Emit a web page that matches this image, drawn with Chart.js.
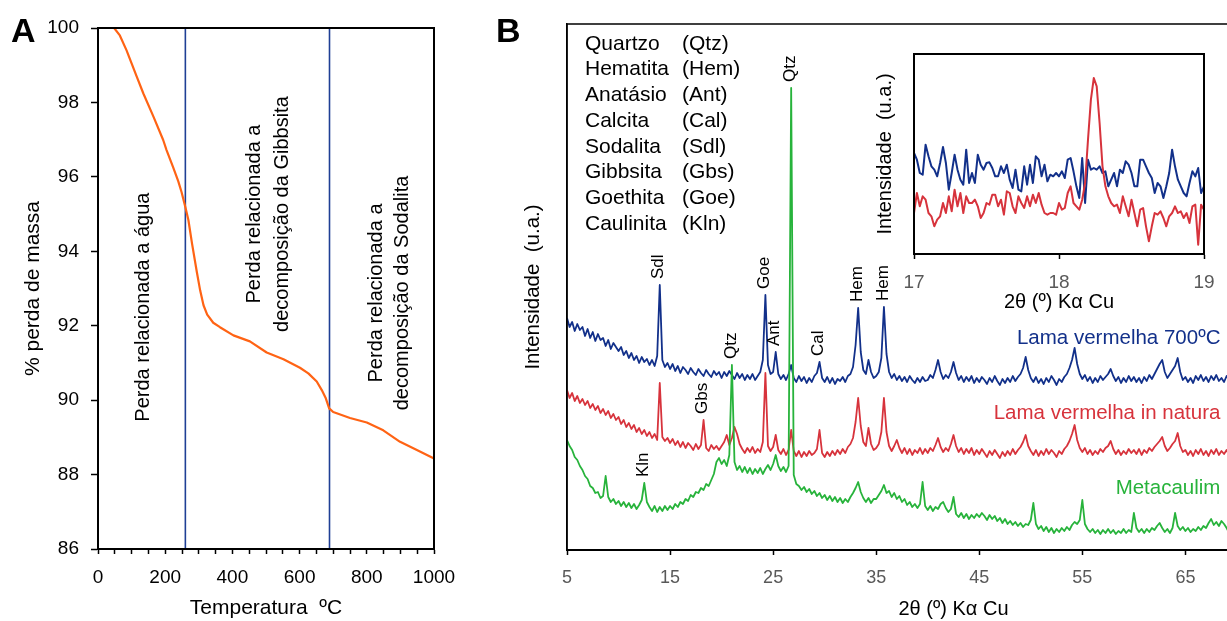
<!DOCTYPE html>
<html lang="pt">
<head>
<meta charset="UTF-8">
<title>TGA e DRX</title>
<script src="https://cdn.jsdelivr.net/npm/chart.js"></script>
<style>
  body { margin: 0; width: 1227px; height: 621px; overflow: hidden; background: #fff; position: relative; font-family: 'Liberation Sans', Arial, sans-serif; }
  canvas { position: absolute; }
  .panel { position: absolute; font-weight: bold; font-size: 34px; line-height: 1; }
</style>
</head>
<body>
<canvas id="tga" style="left:0; top:0;" width="470" height="621"></canvas>
<canvas id="xrd" style="left:480px; top:0;" width="880" height="621"></canvas>
<canvas id="inset" style="left:860px; top:40px;" width="367" height="280"></canvas>
<div class="panel" style="left:11px; top:13px;">A</div>
<div class="panel" style="left:496px; top:13px;">B</div>
<script>
// ---- A: TGA ----
const tgaTemp = [48, 65, 85, 100, 115, 135, 165, 194, 204, 224, 239, 249, 261, 269, 280, 294, 304, 314, 325, 343,
  363, 403, 452, 502, 552, 601, 626, 651, 666, 678, 688, 700, 750, 800, 849, 899, 949, 1000];
const tgaMass = [100.0, 99.8, 99.4, 99.05, 98.7, 98.24, 97.62, 96.99, 96.72, 96.25, 95.88, 95.58, 95.15, 94.84, 94.2, 93.45, 92.95, 92.55, 92.3, 92.08,
  91.96, 91.74, 91.58, 91.28, 91.1, 90.87, 90.72, 90.5, 90.27, 90.05, 89.78, 89.68, 89.52, 89.4, 89.19, 88.88, 88.66, 88.43];
const stageBounds = [260, 689];
const tempTicks = [0, 50, 100, 150, 200, 250, 300, 350, 400, 450, 500, 550, 600, 650, 700, 750, 800, 850, 900, 950, 1000];
const stageNotes = [
  { lines: ['Perda relacionada a água'], at: [134], mid: 92.5 },
  { lines: ['Perda relacionada a', 'decomposição da Gibbsita'], at: [467, 548], mid: 95.0 },
  { lines: ['Perda relacionada a', 'decomposição da Sodalita'], at: [830, 905], mid: 92.88 }
];

// ---- B: DRX, 2θ from 5 to 70 in steps of 0.25 ----
const xrdStart = 5, xrdStep = 0.25;
const xrdTicks = [5, 15, 25, 35, 45, 55, 65, 75];
const xrdBlue = [
  232,223,228,219,226,220,223,214,221,212,218,209,216,210,212,204,210,201,207,203,
  199,203,195,199,192,197,190,194,187,193,188,191,185,190,184,194,265,190,183,187,
  181,186,179,184,177,183,180,176,182,178,175,181,177,174,180,176,173,179,175,178,
  172,178,174,179,175,171,177,172,176,170,175,171,176,170,174,178,190,255,185,176,
  178,198,176,171,175,170,176,185,172,168,174,169,173,167,172,168,174,177,188,172,
  168,173,167,172,166,171,169,173,168,174,176,183,205,242,198,180,176,190,178,172,
  174,178,192,243,196,178,172,176,170,174,169,173,168,174,170,167,172,168,173,169,
  170,175,172,180,190,178,171,175,172,178,188,177,170,174,168,173,169,174,167,172,
  168,173,170,166,172,168,174,169,165,171,167,172,168,174,169,173,176,182,193,180,
  172,168,173,167,171,166,172,168,174,170,165,171,168,173,176,182,190,202,186,176,
  171,175,169,173,167,172,168,174,170,173,176,181,174,169,173,167,172,168,174,169,
  173,168,172,167,173,169,175,171,176,181,186,190,178,172,176,180,184,192,178,170,
  173,168,172,167,174,170,175,169,173,168,174,170,175,169,172,168,174,170,173,169,
  172];
const xrdRed = [
  160,152,157,149,154,147,151,145,149,142,146,140,144,137,141,135,139,132,136,130,
  133,126,130,123,127,121,125,118,122,116,120,114,118,112,116,110,167,113,109,112,
  107,111,105,109,103,108,102,107,104,100,106,101,105,130,102,99,105,101,104,100,
  104,108,115,105,112,123,116,106,101,97,102,98,103,97,101,98,108,177,104,99,
  103,115,100,96,101,95,100,120,99,94,99,93,98,94,99,95,97,101,120,97,
  93,98,94,99,95,100,96,101,97,103,106,112,128,152,124,108,104,122,106,100,
  102,106,118,152,118,104,99,104,110,102,97,102,96,101,95,100,97,102,96,101,
  97,102,99,105,112,103,98,102,99,106,115,104,98,102,96,101,97,102,95,100,
  96,101,97,93,99,95,100,96,92,98,94,99,95,101,96,100,103,108,115,104,
  99,95,100,94,99,95,101,96,100,97,93,99,96,101,104,109,116,125,110,102,
  98,102,96,100,95,99,96,101,98,102,104,109,101,96,100,95,99,96,101,97,
  100,96,101,95,100,97,102,99,103,106,109,113,104,99,102,106,109,117,104,98,
  100,95,99,94,100,96,101,95,99,94,100,96,101,95,99,96,100,95,99,96,
  98];
const xrdGreen = [
  110,104,100,93,90,84,80,74,71,64,62,57,58,52,54,74,53,48,51,46,
  49,44,48,43,47,42,46,41,45,50,67,48,43,39,44,38,43,39,44,40,
  44,41,46,43,48,46,51,49,55,53,58,57,62,60,66,64,70,76,88,92,
  86,90,84,95,185,88,80,84,78,83,77,82,76,81,77,82,76,81,85,80,
  86,95,84,79,83,78,84,462,75,66,64,60,63,58,61,56,59,54,57,52,
  55,50,54,49,53,48,52,47,51,48,53,57,62,68,58,52,48,52,47,51,
  51,55,59,65,57,59,53,57,51,54,48,51,45,48,43,46,42,46,68,44,
  40,44,39,43,41,46,48,42,38,41,53,36,33,37,32,36,31,35,32,36,
  33,37,34,30,35,31,34,29,32,27,31,26,29,25,28,24,27,23,26,25,
  30,47,26,21,24,19,23,18,22,17,21,18,22,19,23,20,25,28,26,30,
  50,26,21,18,21,17,20,16,20,17,21,17,20,16,19,17,21,17,20,18,
  37,22,18,21,17,21,18,22,20,24,27,22,18,21,17,22,37,24,20,23,
  19,22,18,21,19,23,20,24,22,27,31,25,28,24,29,26,22,17,13,11,
  10];
const mineralNames = ['Quartzo', 'Hematita', 'Anatásio', 'Calcita', 'Sodalita', 'Gibbsita', 'Goethita', 'Caulinita'];
const mineralCodes = ['(Qtz)', '(Hem)', '(Ant)', '(Cal)', '(Sdl)', '(Gbs)', '(Goe)', '(Kln)'];
const peakTags = [['Kln', 12.5, 'green'], ['Sdl', 14.0, 'blue'], ['Gbs', 18.25, 'red'], ['Qtz', 21.0, 'green'],
  ['Goe', 24.25, 'blue'], ['Ant', 25.25, 'blue'], ['Qtz', 26.75, 'green'], ['Cal', 29.5, 'blue'],
  ['Hem', 33.25, 'blue'], ['Hem', 35.75, 'blue']];
const sampleNames = ['Lama vermelha 700ºC', 'Lama vermelha in natura', 'Metacaulim'];

// ---- inset: 2θ from 17 to 19 in steps of 0.02 ----
const insetStart = 17, insetStep = 0.02;
const insetBlue = [
  303,283,243,238,328,293,263,253,233,273, 321,273,193,243,298,253,223,208,313,213,
  243,213,298,268,253,273,275,258,233,233, 263,243,268,223,198,253,193,188,263,208,
  268,213,293,283,233,268,218,238,233,243, 233,248,228,283,288,248,203,168,288,153,
  283,253,258,253,263,243,248,203,223,243, 203,253,243,278,268,243,203,203,283,283,
  263,243,228,183,213,203,168,203,243,313, 263,223,203,183,173,213,248,233,258,183,
  203];
const insetRed = [
  123,183,143,173,163,123,113,83,103,113, 153,123,173,128,193,143,183,123,173,153,
  153,163,143,108,123,153,148,178,178,143, 163,118,188,183,143,123,173,153,138,173,
  143,178,153,183,148,123,118,123,123,118, 153,133,138,183,203,153,143,133,163,213,
  343,463,528,503,393,263,203,173,153,143, 148,123,173,143,113,163,123,83,133,138,
  83,38,83,123,118,128,108,83,113,123, 143,123,128,108,123,93,143,148,28,148,
  133];

const colors = { blue: '#12308a', red: '#d7333c', green: '#27b33b', orange: '#ff6314', stage: '#1f3f95', gray: '#595959' };
const FONT = "'Liberation Sans', Arial, sans-serif";
Chart.defaults.font.family = FONT;
Chart.defaults.color = '#000';

function points(xs, ys) { return ys.map((v, i) => ({ x: xs[i], y: v })); }
function gridPoints(start, step, ys) { return ys.map((v, i) => ({ x: start + i * step, y: v })); }

const frame = {
  id: 'frame',
  afterDraw(chart, args, opts) {
    const { ctx, chartArea: a } = chart;
    ctx.save();
    ctx.strokeStyle = '#000';
    ctx.lineWidth = opts.width || 2;
    ctx.strokeRect(a.left, a.top, a.right - a.left, a.bottom - a.top);
    ctx.restore();
  }
};

function vText(ctx, text, x, y, align) {
  ctx.save();
  ctx.translate(x, y);
  ctx.rotate(-Math.PI / 2);
  ctx.textAlign = align;
  ctx.fillText(text, 0, 0);
  ctx.restore();
}

const tgaNotes = {
  id: 'tgaNotes',
  afterDatasetsDraw(chart) {
    const { ctx, scales: { x, y } } = chart;
    ctx.save();
    ctx.font = '20px ' + FONT;
    ctx.fillStyle = '#000';
    ctx.textBaseline = 'middle';
    stageNotes.forEach(n => n.lines.forEach((line, i) => {
      vText(ctx, line, x.getPixelForValue(n.at[i]), y.getPixelForValue(n.mid), 'center');
    }));
    ctx.restore();
  }
};

const xrdNotes = {
  id: 'xrdNotes',
  afterDatasetsDraw(chart) {
    const { ctx, chartArea: a, scales: { x, y } } = chart;
    const series = { blue: xrdBlue, red: xrdRed, green: xrdGreen };
    ctx.save();
    ctx.fillStyle = '#000';
    ctx.textBaseline = 'middle';
    // mineral list
    ctx.font = '21px ' + FONT;
    ctx.textAlign = 'left';
    mineralNames.forEach((name, i) => {
      const ty = a.top + 20 + i * 25.7;
      ctx.fillText(name, a.left + 18, ty);
      ctx.fillText(mineralCodes[i], a.left + 115, ty);
    });
    // peak tags
    ctx.font = '17px ' + FONT;
    peakTags.forEach(([tag, angle, key]) => {
      const idx = Math.round((angle - xrdStart) / xrdStep);
      vText(ctx, tag, x.getPixelForValue(angle) - 1, y.getPixelForValue(series[key][idx]) - 6, 'left');
    });
    // sample names
    ctx.font = '20.5px ' + FONT;
    ctx.textAlign = 'right';
    const tagY = [212, 137, 62];
    const tagC = [colors.blue, colors.red, colors.green];
    sampleNames.forEach((s, i) => {
      ctx.fillStyle = tagC[i];
      ctx.fillText(s, x.getPixelForValue(68.4), y.getPixelForValue(tagY[i]));
    });
    ctx.restore();
  }
};

function line(data, color, width, order) {
  return { data, borderColor: color, borderWidth: width, pointRadius: 0, tension: 0, order, borderJoinStyle: 'round' };
}

function xAxis(extra) {
  return Object.assign({
    type: 'linear',
    grid: { drawOnChartArea: false, tickLength: 5, tickColor: '#000', tickWidth: 1.5 },
    border: { color: '#000', width: 2 }
  }, extra);
}

new Chart(document.getElementById('tga'), {
  type: 'line',
  data: {
    datasets: [line(points(tgaTemp, tgaMass), colors.orange, 2.2, 0)]
      .concat(stageBounds.map(b => line([{ x: b, y: 86 }, { x: b, y: 100 }], colors.stage, 1.6, 1)))
  },
  options: {
    responsive: false, animation: false,
    layout: { padding: { left: 0, top: 28, right: 36, bottom: 0 } },
    plugins: { legend: { display: false }, tooltip: { enabled: false }, frame: { width: 2 } },
    scales: {
      x: xAxis({
        min: 0, max: 1000,
        afterBuildTicks: s => { s.ticks = tempTicks.map(v => ({ value: v })); },
        ticks: { autoSkip: false, maxRotation: 0, padding: 12, font: { size: 19 }, color: '#000',
          callback: v => (v % 200 === 0 ? String(v) : '') },
        title: { display: true, text: 'Temperatura  ºC', font: { size: 21 }, color: '#000', padding: { top: 0, bottom: 0.5 } },
        afterFit: s => { s.height = 72; }
      }),
      y: {
        min: 86, max: 100,
        ticks: { stepSize: 2, padding: 12, font: { size: 19 }, color: '#000' },
        grid: { drawOnChartArea: false, tickLength: 7, tickColor: '#000', tickWidth: 1.5 },
        border: { color: '#000', width: 2 },
        title: { display: true, text: '% perda de massa', font: { size: 21 }, color: '#000', padding: { top: 20.4, bottom: 0 } },
        afterFit: s => { s.width = 98; }
      }
    }
  },
  plugins: [frame, tgaNotes]
});

new Chart(document.getElementById('xrd'), {
  type: 'line',
  data: {
    datasets: [
      line(gridPoints(xrdStart, xrdStep, xrdGreen), colors.green, 1.8, 0),
      line(gridPoints(xrdStart, xrdStep, xrdRed), colors.red, 1.8, 1),
      line(gridPoints(xrdStart, xrdStep, xrdBlue), colors.blue, 1.8, 2)
    ]
  },
  options: {
    responsive: false, animation: false,
    layout: { padding: { left: 0, top: 24, right: 20, bottom: 0 } },
    plugins: { legend: { display: false }, tooltip: { enabled: false }, frame: { width: 1.5 } },
    scales: {
      x: xAxis({
        min: 5, max: 80,
        afterBuildTicks: s => { s.ticks = xrdTicks.map(v => ({ value: v })); },
        ticks: { autoSkip: false, maxRotation: 0, padding: 12, font: { size: 18 }, color: colors.gray },
        title: { display: true, text: '2θ (º) Kα Cu', font: { size: 20 }, color: '#000', padding: { top: 0, bottom: 0 } },
        afterFit: s => { s.height = 71; }
      }),
      y: {
        min: 0, max: 526,
        ticks: { display: false },
        grid: { display: false },
        border: { color: '#000', width: 1.5 },
        title: { display: true, text: 'Intensidade  (u.a.)', font: { size: 20.5 }, color: '#000', padding: { top: 41, bottom: 0 } },
        afterFit: s => { s.width = 87; }
      }
    }
  },
  plugins: [frame, xrdNotes]
});

new Chart(document.getElementById('inset'), {
  type: 'line',
  data: {
    datasets: [
      line(gridPoints(insetStart, insetStep, insetRed), colors.red, 2, 0),
      line(gridPoints(insetStart, insetStep, insetBlue), colors.blue, 2, 1)
    ]
  },
  options: {
    responsive: false, animation: false,
    layout: { padding: { left: 0, top: 14, right: 23, bottom: 0 } },
    plugins: { legend: { display: false }, tooltip: { enabled: false }, frame: { width: 2 } },
    scales: {
      x: xAxis({
        min: 17, max: 19,
        ticks: { stepSize: 1, padding: 12, font: { size: 19 }, color: colors.gray },
        title: { display: true, text: '2θ (º) Kα Cu', font: { size: 20 }, color: '#000', padding: { top: 0, bottom: 6 } },
        afterFit: s => { s.height = 66; }
      }),
      y: {
        min: 0, max: 600,
        ticks: { display: false },
        grid: { display: false },
        border: { color: '#000', width: 2 },
        title: { display: true, text: 'Intensidade  (u.a.)', font: { size: 20 }, color: '#000', padding: { top: 13, bottom: 0 } },
        afterFit: s => { s.width = 54; }
      }
    }
  },
  plugins: [frame]
});
</script>
</body>
</html>
